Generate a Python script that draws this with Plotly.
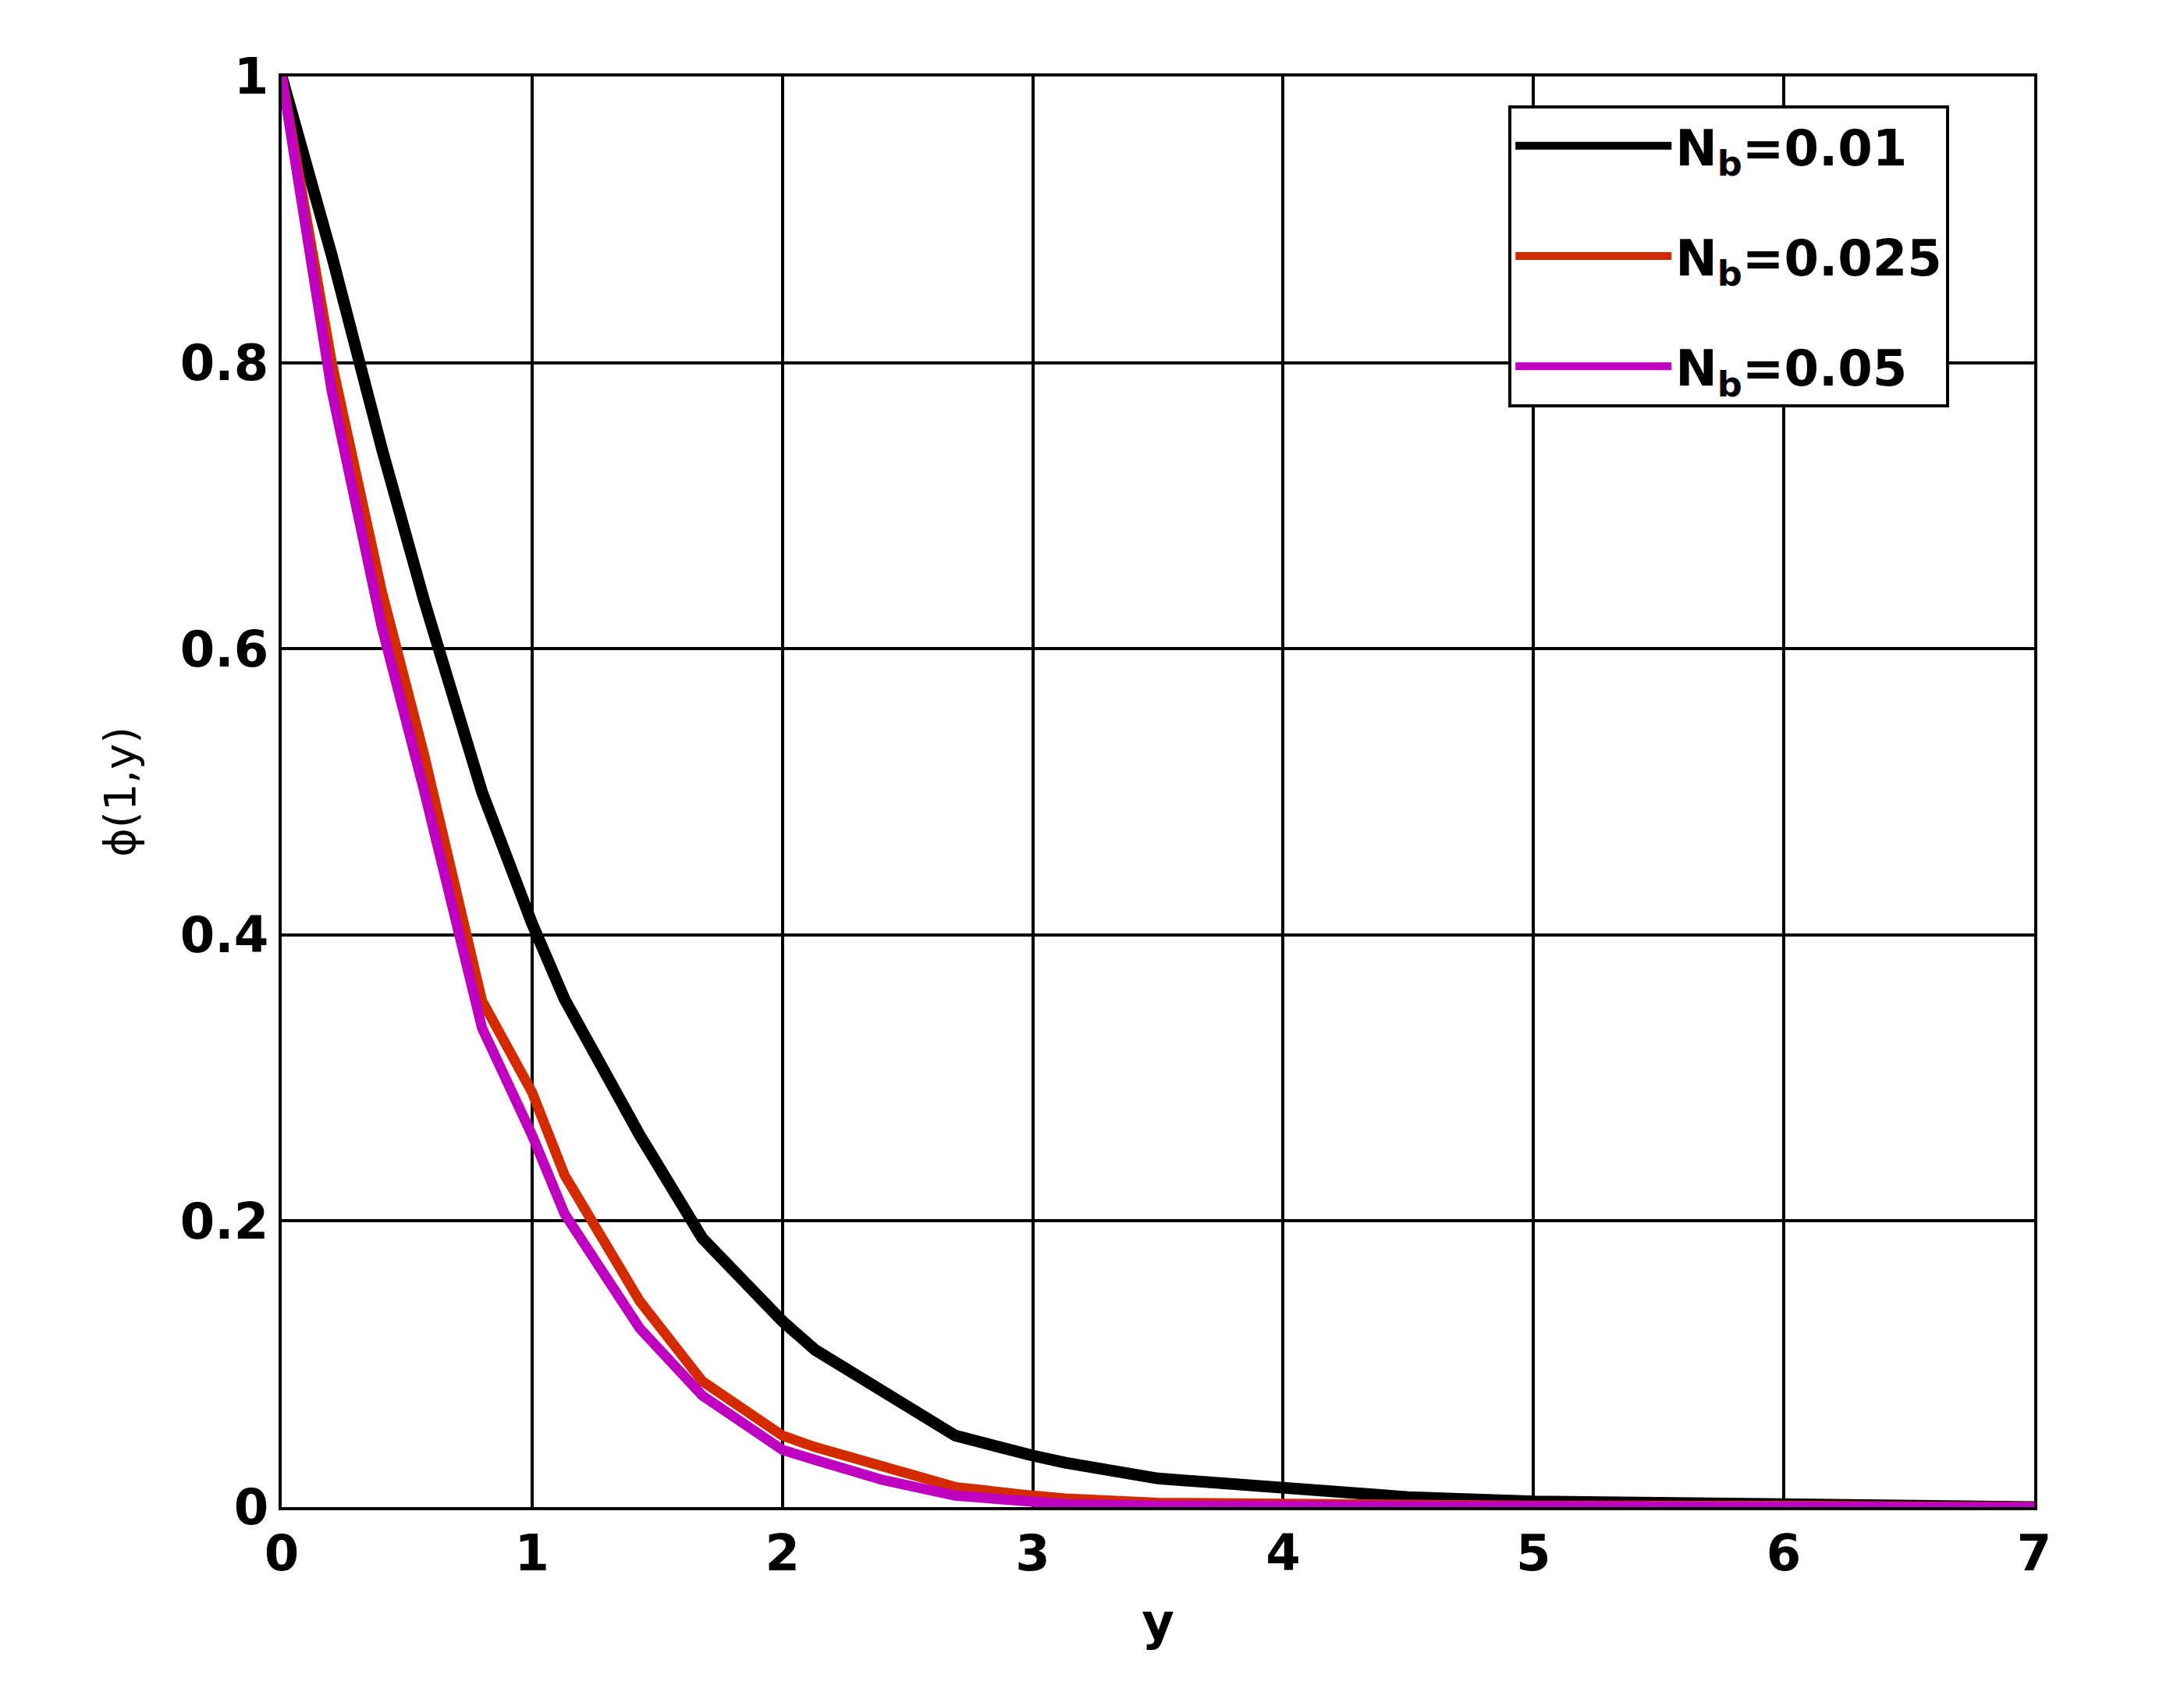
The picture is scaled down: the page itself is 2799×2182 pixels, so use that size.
import plotly.graph_objects as go

y_vals = [0, 0.2, 0.4, 0.57, 0.8, 1.0, 1.13, 1.43, 1.68, 2.0, 2.13, 2.4, 2.69, 3.0, 3.13, 3.5, 4.0, 4.5, 5.0, 6.0, 7.0]
phi_001 = [1, 0.875, 0.74, 0.633, 0.5, 0.408, 0.355, 0.26, 0.188, 0.13, 0.11, 0.08, 0.05, 0.036, 0.031, 0.02, 0.013, 0.007, 0.004, 0.002, 0]
phi_0025 = [1, 0.8, 0.64, 0.525, 0.354, 0.29, 0.232, 0.144, 0.088, 0.05, 0.042, 0.028, 0.014, 0.008, 0.006, 0.003, 0.002, 0.001, 0.001, 0.001, 0]
phi_005 = [1, 0.78, 0.615, 0.5, 0.335, 0.26, 0.205, 0.125, 0.078, 0.04, 0.033, 0.019, 0.008, 0.003, 0.002, 0.001, 0.001, 0.001, 0.001, 0.001, 0]
names = ["N<sub>b</sub>=0.01", "N<sub>b</sub>=0.025", "N<sub>b</sub>=0.05"]
colors = ["#000000", "#d42a00", "#c000c0"]
widths = [15, 13, 13]

fig = go.Figure()
for i, (s, n, c, w) in enumerate(zip([phi_001, phi_0025, phi_005], names, colors, widths)):
    fig.add_trace(go.Scatter(x=y_vals, y=s, mode="lines", name=n, legendgroup=f"g{i}",
                             line=dict(color=c, width=w)))

font = dict(family="DejaVu Sans", size=64, color="black", weight="bold")
ax = dict(showline=True, linecolor="black", linewidth=4, mirror=True, showgrid=True,
          gridcolor="black", gridwidth=4, zeroline=False, ticks="", tickfont=font)
fig.update_layout(
    width=2799, height=2182, plot_bgcolor="white", paper_bgcolor="white",
    margin=dict(l=353, r=200, t=90, b=259),
    xaxis=dict(ax, range=[0, 7], dtick=1, title=dict(text="y", font=font, standoff=30)),
    yaxis=dict(ax, range=[0, 1], tickvals=[0, 0.2, 0.4, 0.6, 0.8, 1], ticktext=["0", "0.2", "0.4", "0.6", "0.8", "1"],
               title=dict(text="ϕ(1,y)", font=dict(family="DejaVu Sans", size=56, color="black"), standoff=40)),
    legend=dict(x=0.70, y=0.98, xanchor="left", yanchor="top", bgcolor="white", bordercolor="black",
                borderwidth=4, font=font, itemwidth=200, tracegroupgap=55),
    showlegend=True,
)
fig.write_html("out.html")
